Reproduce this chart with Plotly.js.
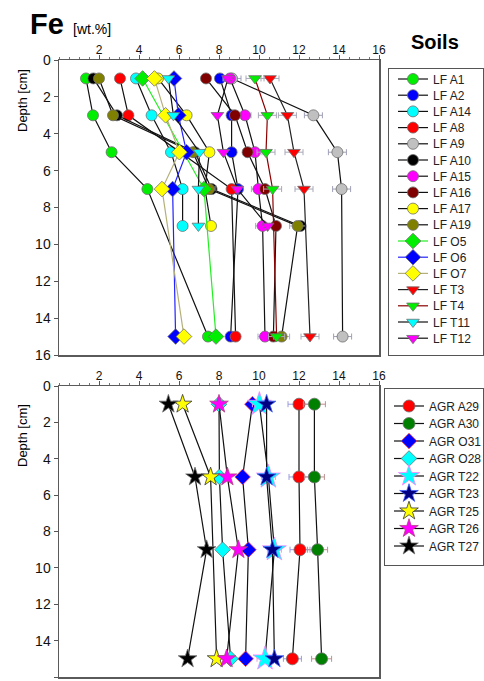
<!DOCTYPE html>
<html>
<head>
<meta charset="utf-8">
<script src="https://cdn.plot.ly/plotly-3.0.1.min.js"></script>
<style>html,body{margin:0;padding:0;background:#fff;}#chart{width:484px;height:681px;}</style>
</head>
<body>
<div id="chart"></div>
<script>
// ---------- DATA ----------
const lfDepth = [1, 3, 5, 7, 9, 15];
const agrDepth = [1, 5, 9, 15];

const lfNames = ['LF A1','LF A2','LF A14','LF A8','LF A9','LF A10','LF A15','LF A16','LF A17','LF A19','LF O5','LF O6','LF O7','LF T3','LF T4','LF T11','LF T12'];
const lfA1  = [1.35, 1.70, 2.63, 4.42, null, 7.45];
const lfA2  = [8.05, 8.63, 8.63, 8.95, null, 8.58];
const lfA14 = [3.85, 4.63, 5.60, 6.18, 6.18, null];
const lfA8  = [3.05, 3.47, null, 8.63, null, 8.83];
const lfA9  = [8.65, 12.72, 13.92, 14.13, null, 14.18];
const lfA10 = [1.72, 2.90, 6.80, 7.63, 12.08, null];
const lfA15 = [8.55, 9.30, 9.80, 9.97, 10.18, 10.30];
const lfA16 = [7.35, 8.80, 9.43, 10.30, 10.85, 10.72];
const lfA17 = [4.95, 6.38, 7.52, 7.30, 7.60, null];
const lfA19 = [2.00, 2.70, 6.70, 7.50, 11.93, 11.13];
const lfO5  = [4.18, null, null, 7.25, null, 7.85];
const lfO6  = [5.75, 5.97, 6.38, 5.68, null, 5.83];
const lfO7  = [4.77, 5.33, 6.02, 5.15, null, 6.25];
const lfT3  = [10.55, 11.42, 11.75, 12.25, null, 12.55];
const lfT4  = [9.80, 10.42, 10.35, 10.68, null, 10.88];
const lfT11 = [5.47, 5.72, 7.02, 6.97, 6.97, null];
const lfT12 = [8.45, 7.92, 8.22, 8.92, 10.43, null];

// horizontal error (± wt.%)
const errA9  = [0.45, 0.45, 0.45, 0.45, null, 0.45];
const errT3  = [0.45, 0.45, 0.45, 0.45, null, 0.45];
const errT4  = [0.45, 0.45, 0.45, 0.45, null, 0.40];
const errA15 = [0.30, 0.30, 0.35, 0.35, 0.35, 0.35];
const errA19 = [0.20, 0.20, 0.30, 0.30, 0.40, 0.40];

const agrNames = ['AGR A29','AGR A30','AGR O31','AGR O28','AGR T22','AGR T23','AGR T25','AGR T26','AGR T27'];
const agrA29 = [12.00, 12.00, 12.05, 11.67];
const agrA30 = [12.77, 12.77, 12.93, 13.13];
const agrO31 = [9.67, 9.18, 9.47, 9.33];
const agrO28 = [8.00, 8.02, 8.18, 8.58];
const agrT22 = [10.02, 10.47, 10.77, 10.30];
const agrT23 = [10.38, 10.38, 10.67, 10.77];
const agrT25 = [6.18, 7.58, null, 7.88];
const agrT26 = [8.00, 8.42, 8.97, 8.38];
const agrT27 = [5.47, 6.80, 7.38, 6.43];
const errA29 = [0.55, 0.50, 0.50, 0.45];
const errA30 = [0.55, 0.50, 0.50, 0.50];
const errT22 = [0.35, 0.35, 0.35, 0.40];

const xTicks = [2, 4, 6, 8, 10, 12, 14, 16];
const yTicks = [0, 2, 4, 6, 8, 10, 12, 14, 16];

// ---------- STYLE ----------
const FONT = 'Liberation Sans, Arial, Helvetica, sans-serif';
const OUT = '#6e6e6e';
const ERRC = '#a8a8cc';

function tr(name, xs, depth, ax, legend, color, symbol, size, lineColor, err, errColor, outline) {
  const t = {
    type: 'scatter', mode: 'lines+markers', name: name,
    x: xs, y: depth, xaxis: ax[0], yaxis: ax[1], legend: legend,
    connectgaps: true, cliponaxis: false,
    line: {color: lineColor || '#111', width: 1.2},
    marker: {color: color, symbol: symbol, size: size, line: {color: outline || OUT, width: 0.8}}
  };
  if (err) t.error_x = {type: 'data', array: err, visible: true, color: errColor || ERRC, thickness: 1, width: 3};
  return t;
}
const A1 = ['x', 'y'], A2 = ['x2', 'y2'];
const traces = [
  tr(lfNames[0],  lfA1,  lfDepth, A1, 'legend', '#00ee00', 'circle', 11),
  tr(lfNames[1],  lfA2,  lfDepth, A1, 'legend', '#0000ff', 'circle', 11),
  tr(lfNames[2],  lfA14, lfDepth, A1, 'legend', '#00ffff', 'circle', 11),
  tr(lfNames[3],  lfA8,  lfDepth, A1, 'legend', '#ff0000', 'circle', 11),
  tr(lfNames[4],  lfA9,  lfDepth, A1, 'legend', '#c0c0c0', 'circle', 11, null, errA9, '#a0a0b8'),
  tr(lfNames[5],  lfA10, lfDepth, A1, 'legend', '#000000', 'circle', 11),
  tr(lfNames[6],  lfA15, lfDepth, A1, 'legend', '#ff00ff', 'circle', 11, null, errA15),
  tr(lfNames[7],  lfA16, lfDepth, A1, 'legend', '#800000', 'circle', 11),
  tr(lfNames[8],  lfA17, lfDepth, A1, 'legend', '#ffff00', 'circle', 11),
  tr(lfNames[9],  lfA19, lfDepth, A1, 'legend', '#808000', 'circle', 11, null, errA19),
  tr(lfNames[10], lfO5,  lfDepth, A1, 'legend', '#00ee00', 'diamond', 12, '#22ee22'),
  tr(lfNames[11], lfO6,  lfDepth, A1, 'legend', '#0000ff', 'diamond', 12, '#2222ff'),
  tr(lfNames[12], lfO7,  lfDepth, A1, 'legend', '#ffff00', 'diamond', 12, '#b5b07a'),
  tr(lfNames[13], lfT3,  lfDepth, A1, 'legend', '#ff0000', 'triangle-down', 11, '#222', errT3, '#a8a8b8'),
  tr(lfNames[14], lfT4,  lfDepth, A1, 'legend', '#00ee00', 'triangle-down', 11, '#8b0000', errT4, '#a8a8b8'),
  tr(lfNames[15], lfT11, lfDepth, A1, 'legend', '#00ffff', 'triangle-down', 11),
  tr(lfNames[16], lfT12, lfDepth, A1, 'legend', '#ff00ff', 'triangle-down', 11),

  tr(agrNames[0], agrA29, agrDepth, A2, 'legend2', '#ff0000', 'circle', 12, null, errA29, '#9a9ae0'),
  tr(agrNames[1], agrA30, agrDepth, A2, 'legend2', '#008000', 'circle', 12, null, errA30, '#c09090'),
  tr(agrNames[2], agrO31, agrDepth, A2, 'legend2', '#0000ff', 'diamond', 12, null, null, null, '#ff4040'),
  tr(agrNames[3], agrO28, agrDepth, A2, 'legend2', '#00ffff', 'diamond', 12),
  tr(agrNames[4], agrT22, agrDepth, A2, 'legend2', '#00ffff', 'star', 18, null, errT22, '#e0a0e0', '#ff80ff'),
  tr(agrNames[5], agrT23, agrDepth, A2, 'legend2', '#000080', 'star', 14, null, null, null, '#4060ff'),
  tr(agrNames[6], agrT25, agrDepth, A2, 'legend2', '#ffff00', 'star', 14, null, null, null, '#333'),
  tr(agrNames[7], agrT26, agrDepth, A2, 'legend2', '#ff00ff', 'star', 14, null, null, null, '#b04080'),
  tr(agrNames[8], agrT27, agrDepth, A2, 'legend2', '#000000', 'star', 14)
];

const H = 681, W = 484;
const xDom = [59 / W, 379 / W];
const axX = {
  domain: xDom, range: [0, 16], side: 'top', tickvals: xTicks, ticks: 'outside', ticklen: 4,
  tickcolor: '#555', tickwidth: 1, showline: true, linecolor: '#5a5a5a', linewidth: 1.5, mirror: true,
  showgrid: false, zeroline: false, tickfont: {family: FONT, size: 12, color: '#111'},
  ticklabelstandoff: -4,
  minor: {tick0: 0, dtick: 0.5, ticks: 'outside', ticklen: 2, tickcolor: '#777', showgrid: false}
};
const axY = {
  range: [16, 0], tickvals: yTicks, ticks: 'outside', ticklen: 4, tickcolor: '#555',
  showline: true, linecolor: '#5a5a5a', linewidth: 1.5, mirror: true, showgrid: false, zeroline: false,
  tickfont: {family: FONT, size: 14, color: '#111'}
};
const legBase = {
  xanchor: 'left', yanchor: 'top', bgcolor: '#fff', bordercolor: '#555', borderwidth: 1,
  font: {family: FONT, size: 12, color: '#222'}, itemwidth: 30, tracegroupgap: 0
};

const layout = {
  width: W, height: H, margin: {l: 0, r: 0, t: 0, b: 0, pad: 0},
  paper_bgcolor: '#fff', plot_bgcolor: '#fff', showlegend: true,
  font: {family: FONT, size: 12, color: '#000'},
  xaxis: Object.assign({}, axX, {anchor: 'y'}),
  yaxis: Object.assign({}, axY, {domain: [1 - 355 / H, 1 - 60 / H], anchor: 'x'}),
  xaxis2: Object.assign({}, axX, {anchor: 'y2'}),
  yaxis2: Object.assign({}, axY, {domain: [1 - 677 / H, 1 - 386 / H], anchor: 'x2'}),
  legend: Object.assign({}, legBase, {x: 388 / W, y: 1 - 68 / H}),
  legend2: Object.assign({}, legBase, {x: 384 / W, y: 1 - 388 / H}),
  annotations: [
    {text: '<b>Fe</b>', xref: 'paper', yref: 'paper', x: 28 / W, y: 1 - 24 / H, xanchor: 'left', yanchor: 'middle', showarrow: false, font: {family: FONT, size: 29, color: '#000'}},
    {text: '[wt.%]', xref: 'paper', yref: 'paper', x: 71 / W, y: 1 - 29 / H, xanchor: 'left', yanchor: 'middle', showarrow: false, font: {family: FONT, size: 14, color: '#000'}},
    {text: '<b>Soils</b>', xref: 'paper', yref: 'paper', x: 435 / W, y: 1 - 42 / H, xanchor: 'center', yanchor: 'middle', showarrow: false, font: {family: FONT, size: 20, color: '#000'}},
    {text: 'Depth [cm]', xref: 'paper', yref: 'paper', x: 22 / W, y: 1 - 101 / H, xanchor: 'center', yanchor: 'middle', textangle: -90, showarrow: false, font: {family: FONT, size: 13, color: '#000'}},
    {text: 'Depth [cm]', xref: 'paper', yref: 'paper', x: 22 / W, y: 1 - 436 / H, xanchor: 'center', yanchor: 'middle', textangle: -90, showarrow: false, font: {family: FONT, size: 13, color: '#000'}}
  ]
};

function squeeze(id, first, step, height, width, dx) {
  const g = document.querySelector('g.' + id);
  if (!g) return;
  const items = g.querySelectorAll('g.traces');
  items.forEach(function (it, i) {
    const m = /translate\(\s*([-\d.e]+)[ ,]+([-\d.e]+)\s*\)/.exec(it.getAttribute('transform') || '');
    const x = m ? parseFloat(m[1]) : 0;
    it.setAttribute('transform', 'translate(' + (x + dx) + ',' + (first + i * step) + ')');
  });
  const bg = g.querySelector('rect.bg');
  if (bg) { bg.setAttribute('height', height); bg.setAttribute('width', width); }
}

Plotly.newPlot('chart', traces, layout, {staticPlot: true, displayModeBar: false}).then(function () {
  squeeze('legend', 11, 16.2, 287, 95, 4);
  squeeze('legend2', 18, 17.5, 177, 99, 4);
});
</script>
</body>
</html>
